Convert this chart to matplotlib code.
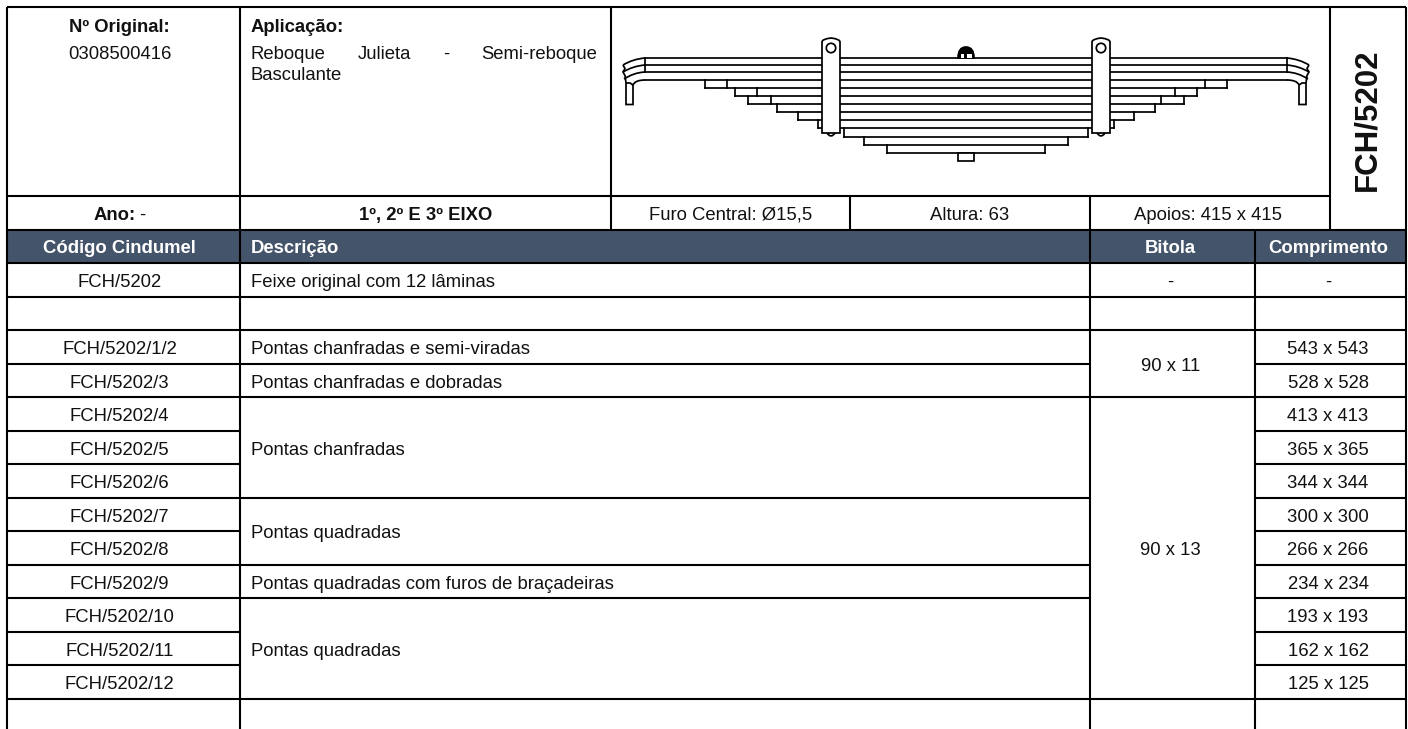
import matplotlib
matplotlib.use("Agg")
import matplotlib.pyplot as plt
from matplotlib.patches import Rectangle, PathPatch, Circle
from matplotlib.path import Path

plt.rcParams['font.family'] = ['Liberation Sans', 'DejaVu Sans']

W, H = 1408, 729
FS = 13.3
LW = 1.5
INK = '#111111'
HEAD = '#44546a'

# ---- content ----
part_code = "FCH/5202"
original_label = "Nº Original:"
original_value = "0308500416"
app_label = "Aplicação:"
app_line1 = ["Reboque", "Julieta", "-", "Semi-reboque"]
app_line2 = "Basculante"
year_label = "Ano:"
year_value = "-"
axle = "1º, 2º E 3º EIXO"
specs = ["Furo Central: Ø15,5", "Altura: 63", "Apoios: 415 x 415"]
headers = ["Código Cindumel", "Descrição", "Bitola", "Comprimento"]
codes = ["FCH/5202", "", "FCH/5202/1/2", "FCH/5202/3", "FCH/5202/4", "FCH/5202/5",
         "FCH/5202/6", "FCH/5202/7", "FCH/5202/8", "FCH/5202/9", "FCH/5202/10",
         "FCH/5202/11", "FCH/5202/12", ""]
lengths = ["-", "", "543 x 543", "528 x 528", "413 x 413", "365 x 365", "344 x 344",
           "300 x 300", "266 x 266", "234 x 234", "193 x 193", "162 x 162", "125 x 125", ""]
# (first row, last row, text)
desc_spans = [(0, 0, "Feixe original com 12 lâminas"), (1, 1, ""),
              (2, 2, "Pontas chanfradas e semi-viradas"), (3, 3, "Pontas chanfradas e dobradas"),
              (4, 6, "Pontas chanfradas"), (7, 8, "Pontas quadradas"),
              (9, 9, "Pontas quadradas com furos de braçadeiras"),
              (10, 12, "Pontas quadradas"), (13, 13, "")]
gauge_spans = [(0, 0, "-"), (1, 1, ""), (2, 3, "90 x 11"), (4, 12, "90 x 13"), (13, 13, "")]

# ---- table grid (pixels) ----
x_left, x_c1, x_c2, x_f1, x_f2, x_g, x_side, x_right = 6.5, 240, 610.5, 850, 1090, 1254.5, 1330, 1405.5
y_top, y_info, y_head, y_rows = 6.5, 196, 230, 263
row_h = 33.5
# text centres of the columns
tx_code, tx_desc, tx_gauge, tx_len, tx_apoios = 119.5, 251, 1170.5, 1328, 1208.5

# ---- leaf spring: half-length of each leaf (px from centre), top y of each leaf ----
cx = 966
clamp_u = 135
leaf_y = [58, 65, 72, 80, 88, 96, 104, 112, 120, 128, 137, 145, 153]
leaf_half = [321, 321, 321, 261, 231, 218, 189, 168, 148, 122, 102, 79]
leaf_step = [None, None, None, 239, 209, 195, None, None, 136, None, None, None]

fig = plt.figure(figsize=(W / 100, H / 100), dpi=100)
ax = fig.add_axes([0, 0, 1, 1])
ax.set_xlim(0, W)
ax.set_ylim(H, 0)
ax.axis('off')


def hline(y, x0, x1, lw=LW):
    ax.plot([x0, x1], [y, y], color='black', lw=lw, solid_capstyle='butt', zorder=3)


def vline(x, y0, y1, lw=LW):
    ax.plot([x, x], [y0, y1], color='black', lw=lw, solid_capstyle='butt', zorder=3)


def row_y(i):
    return y_rows + i * row_h


def label(x, y, s, ha='center', weight='normal', color=INK, size=FS, **kw):
    return ax.text(x, y, s, ha=ha, va='center_baseline', fontsize=size, fontweight=weight,
                   color=color, zorder=4, **kw)


# header band
ax.add_patch(Rectangle((x_left, y_head), x_right - x_left, y_rows - y_head, fc=HEAD, ec='none', zorder=1))

# frame lines
hline(y_top, x_left, x_right)
hline(y_info, x_left, x_side)
hline(y_head, x_left, x_right)
hline(y_rows, x_left, x_right)
vline(x_left, y_top, H)
vline(x_right, y_top, H)
vline(x_c1, y_top, H)
vline(x_c2, y_top, y_head)
vline(x_f1, y_info, y_head)
vline(x_f2, y_info, H)
vline(x_side, y_top, y_head)
vline(x_g, y_head, H)

# row lines
n_rows = len(codes)
for i in range(1, n_rows):
    y = row_y(i)
    hline(y, x_left, x_c1)
    hline(y, x_g, x_right)
for a, b, _ in desc_spans:
    if b + 1 < n_rows:
        hline(row_y(b + 1), x_c1, x_f2)
for a, b, _ in gauge_spans:
    if b + 1 < n_rows:
        hline(row_y(b + 1), x_f2, x_g)

# row text
DY = 0.8
for i, (c, l) in enumerate(zip(codes, lengths)):
    ym = row_y(i) + row_h / 2 + DY
    label(tx_code, ym, c)
    label(tx_len, ym, l)
for a, b, t in desc_spans:
    label(tx_desc, (row_y(a) + row_y(b + 1)) / 2 + DY, t, ha='left')
for a, b, t in gauge_spans:
    label(tx_gauge, (row_y(a) + row_y(b + 1)) / 2 + DY, t)

# header text
hy = (y_head + y_rows) / 2
label(tx_code, hy, headers[0], weight='bold', color='white')
label(tx_desc, hy, headers[1], ha='left', weight='bold', color='white')
label(tx_gauge, hy, headers[2], weight='bold', color='white')
label(tx_len, hy, headers[3], weight='bold', color='white')

# top info
label(tx_code, 25, original_label, weight='bold')
label(tx_code, 52.7, original_value)
label(tx_desc, 25, app_label, ha='left', weight='bold')
label(tx_desc, 73, app_line2, ha='left')

# justified line
fig.canvas.draw()
rend = fig.canvas.get_renderer()
tokens = [label(tx_desc, 52.7, t, ha='left') for t in app_line1]
widths = [t.get_window_extent(rend).width for t in tokens]
gap = (597 - tx_desc - sum(widths)) / (len(tokens) - 1)
xp = tx_desc
for t, w in zip(tokens, widths):
    t.set_x(xp)
    xp += w + gap

# info row
iy = (y_info + y_head) / 2
a_txt = label(0, iy, year_label, ha='left', weight='bold')
b_txt = label(0, iy, year_value, ha='left')
wa = a_txt.get_window_extent(rend).width
wb = b_txt.get_window_extent(rend).width
x0 = tx_code - (wa + 4 + wb) / 2
a_txt.set_x(x0)
b_txt.set_x(x0 + wa + 4)
label((x_c1 + x_c2) / 2, iy, axle, weight='bold')
label((x_c2 + x_f1) / 2, iy, specs[0])
label((x_f1 + x_f2) / 2, iy, specs[1])
label(tx_apoios, iy, specs[2])

# side code
ax.text(1367.5, 120, part_code, rotation=90, ha='center', va='center',
        fontsize=22.5, fontweight='bold', color=INK, zorder=4)

# ---- spring drawing ----
DL = 1.25


def stroke(pts, codes_=None, fc='none', z=2, lw=DL):
    if codes_ is None:
        codes_ = [Path.MOVETO] + [Path.LINETO] * (len(pts) - 1)
    ax.add_patch(PathPatch(Path(pts, codes_), fc=fc, ec='black', lw=lw, zorder=z))


ML, C3 = Path.LINETO, Path.CURVE3
# leaves run the whole width
ax.plot([cx - leaf_half[0], cx + leaf_half[0]], [leaf_y[0]] * 2, color='black', lw=DL, zorder=2)
for i, hl in enumerate(leaf_half):
    ax.plot([cx - hl, cx + hl], [leaf_y[i + 1]] * 2, color='black', lw=DL, zorder=2)

for side in (-1, 1):
    X = lambda u: cx + side * u
    for i, hl in enumerate(leaf_half):
        y0, y1 = leaf_y[i], leaf_y[i + 1]
        if i != 2:
            ax.plot([X(hl), X(hl)], [y0, y1], color='black', lw=DL, zorder=2)
        if leaf_step[i]:
            ax.plot([X(leaf_step[i])] * 2, [y0, y1], color='black', lw=DL, zorder=2)
    # curled ends of leaves 1, 2
    for y0 in (58, 65):
        stroke([(X(321), y0), (X(333), y0 + 1), (X(343), y0 + 7)], [Path.MOVETO, C3, C3])
    # outer notched edge of the curls
    stroke([(X(343), 65), (X(341), 68.5), (X(343), 72), (X(341), 75.5), (X(340), 83)])
    # bottom and top of the third leaf bending into the sleeve
    stroke([(X(321), 72), (X(332), 72.5), (X(342), 79)], [Path.MOVETO, C3, C3])
    stroke([(X(321), 80), (X(331), 80), (X(333), 85)], [Path.MOVETO, C3, C3])
    # sleeve
    stroke([(X(340), 83), (X(340), 104.5), (X(333), 104.5), (X(333), 85), (X(336), 83), (X(340), 83)])
    # clamp
    cu0, cu1 = clamp_u - 9, clamp_u + 9
    stroke([(X(cu0), 133), (X(cu0), 42), (X(cu0), 39), (X(clamp_u), 38), (X(cu1), 39), (X(cu1), 42),
            (X(cu1), 133), (X(cu0), 133)],
           [Path.MOVETO, ML, C3, C3, C3, C3, ML, Path.CLOSEPOLY], fc='white', z=2.5)
    ax.add_patch(Circle((X(clamp_u), 48), 4.7, fc='white', ec='black', lw=DL, zorder=2.6))
    stroke([(X(clamp_u - 4), 133), (X(clamp_u), 139), (X(clamp_u + 4), 133)],
           [Path.MOVETO, C3, C3], fc='white', z=2.4)

# centre bolt
ax.add_patch(Rectangle((958, 153), 16, 8, fc='white', ec='black', lw=DL, zorder=2))
stroke([(958, 58), (958, 47), (966, 47), (974, 47), (974, 58), (958, 58)],
       [Path.MOVETO, C3, C3, C3, C3, Path.CLOSEPOLY], fc='black')
ax.add_patch(Rectangle((960.5, 54), 3, 4, fc='white', ec='none', zorder=2.1))
ax.add_patch(Rectangle((966.5, 54), 5, 4, fc='white', ec='none', zorder=2.1))

fig.savefig('out.png', dpi=100)
